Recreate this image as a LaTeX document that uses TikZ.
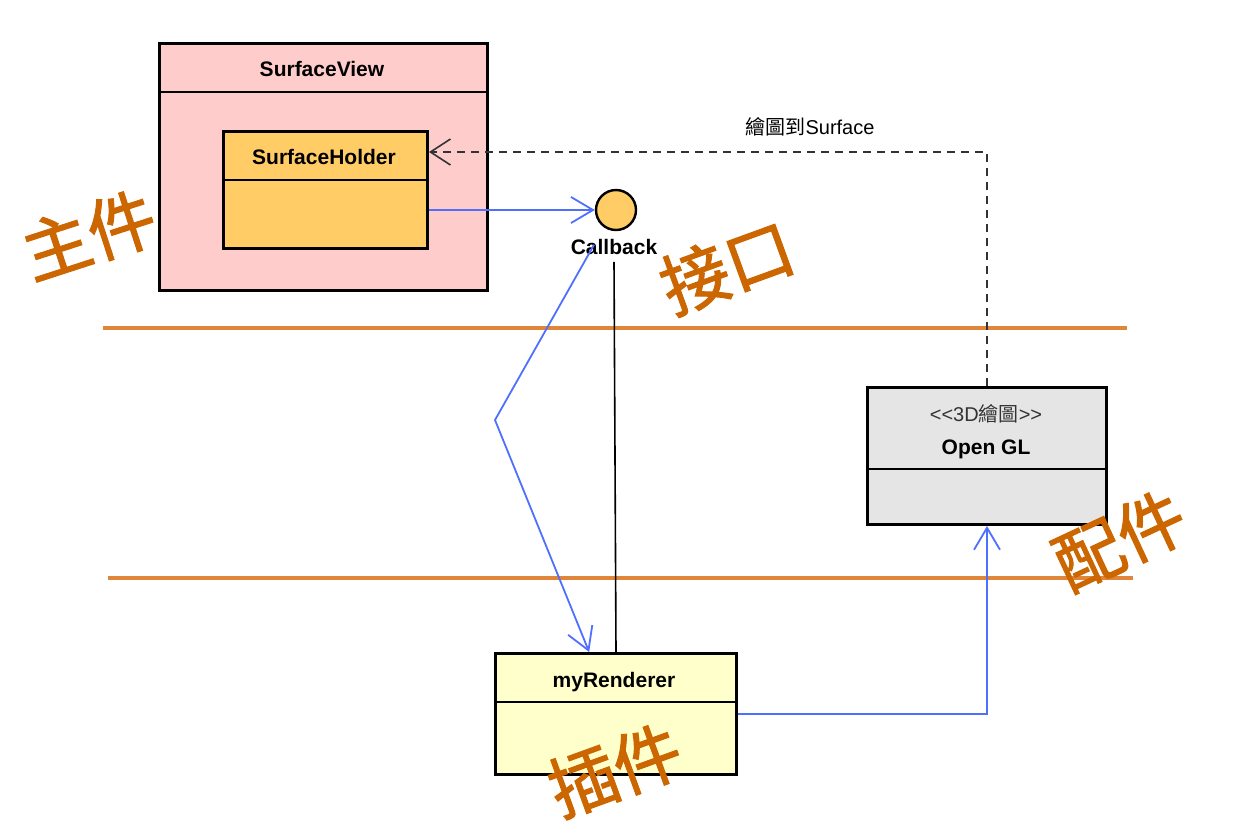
\documentclass[tikz,border=0pt]{standalone}
\usepackage{fontspec}
\setmainfont{Liberation Sans}
\newfontfamily\cjk{Noto Sans CJK TC}
\newfontfamily\cjkheavy[FakeBold=1.6]{Noto Sans CJK TC}
\usetikzlibrary{arrows.meta,calc}
\definecolor{viewpink}{HTML}{FFCCCC}
\definecolor{holderorange}{HTML}{FFCC66}
\definecolor{renderyellow}{HTML}{FFFFCC}
\definecolor{glgray}{HTML}{E5E5E5}
\definecolor{linkblue}{HTML}{4F6FFF}
\definecolor{bandorange}{HTML}{E0863A}
\definecolor{tagorange}{HTML}{CC6600}
\begin{document}
\begin{tikzpicture}[x=0.5pt,y=-0.5pt,
  every node/.style={font=\fontsize{10.5}{12}\selectfont\bfseries},
  umlbox/.style={draw,line width=1.5pt,anchor=north west,inner sep=0pt},
  divider/.style={line width=0.8pt},
  calls/.style={draw=linkblue,line width=0.9pt,-{Straight Barb[length=11pt,width=13pt]}},
  depends/.style={draw=black!80,line width=0.8pt,dash pattern=on 4pt off 3pt,-{Straight Barb[length=10pt,width=13pt]}},
  band/.style={draw=bandorange,line width=1.6pt},
  tag/.style={text=tagorange,inner sep=0pt,font=\fontsize{34}{34}\selectfont\cjkheavy}]
\useasboundingbox (0,0) rectangle (1258,836);
% layer separators
\draw[band] (103,328) -- (1127,328);
\draw[band] (108,578) -- (1133,578);
% main part
\node[umlbox,fill=viewpink,minimum width=164pt,minimum height=123.5pt] (sv) at (158,42) {};
\draw[divider] (sv.west |- 0,92) -- (sv.east |- 0,92);
\node (svt) at (322,69) {SurfaceView};
\node[umlbox,fill=holderorange,minimum width=102pt,minimum height=58.5pt] (sh) at (222,130) {};
\draw[divider] (sh.west |- 0,180) -- (sh.east |- 0,180);
\node (sht) at (324,157) {SurfaceHolder};
% interface
\node[circle,draw,line width=1.2pt,fill=holderorange,minimum size=20pt,inner sep=0pt] (cb) at (616,210) {};
\node (cbl) at (614,247) {Callback};
% plug-in
\node[umlbox,fill=renderyellow,minimum width=120.5pt,minimum height=60.5pt] (mr) at (494,652) {};
\draw[divider] (mr.west |- 0,702) -- (mr.east |- 0,702);
\node (mrt) at (614,682) {myRenderer};
% component
\node[umlbox,fill=glgray,minimum width=119.5pt,minimum height=68.5pt] (gl) at (866,386) {};
\draw[divider] (gl.west |- 0,469) -- (gl.east |- 0,469);
\node[font=\fontsize{10}{12}\selectfont,text=black!80] (glst) at (986,414) {<{}<3D{\cjk 繪圖}>{}>};
\node (glt) at (986,449) {Open GL};
% connectors
\coordinate (drawcorner) at (987,152);
\coordinate (kink) at (495,420);
\draw[calls] (sh.east |- cb) -- (cb);
\draw[depends] (gl.north) -- (drawcorner) -- (sh.east |- drawcorner);
\node[font=\fontsize{10}{12}\selectfont] (drawlbl) at (810,127) {{\cjk 繪圖到}Surface};
\draw[calls,shorten <=10pt] (cb.235) -- (kink) -- ($(mr.north west)!0.39!(mr.north east)$);
\draw[line width=0.8pt] (cbl.south) -- (mr.north);
\draw[calls] (mr.east) -| (gl.south);
% layer tags
\node[tag,rotate=18] (tmain) at (89,235) {主件};
\node[tag,rotate=20] (tiface) at (727,267) {接口};
\node[tag,rotate=25] (tpart) at (1120,540) {配件};
\node[tag,rotate=20] (tplug) at (615,770) {插件};
\end{tikzpicture}
\end{document}
